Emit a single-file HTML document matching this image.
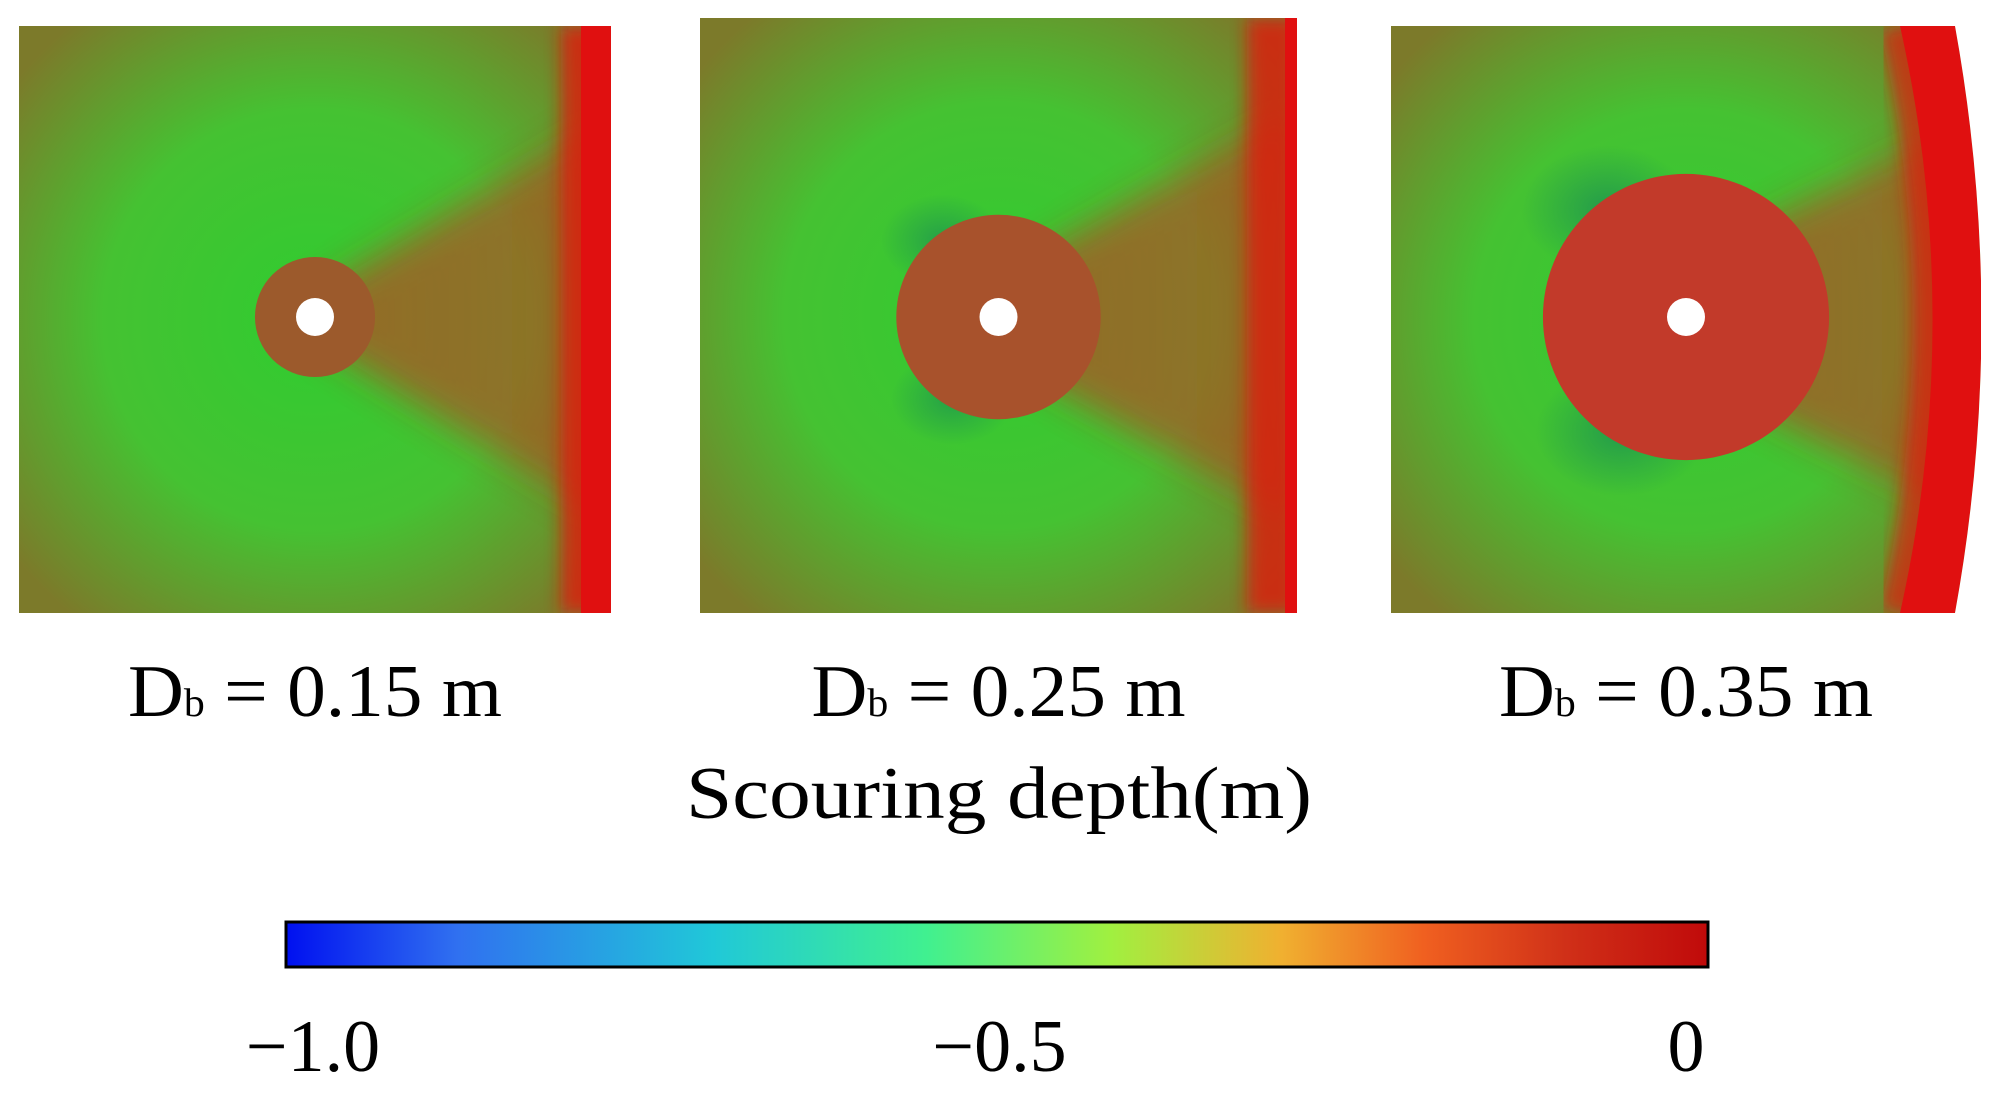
<!DOCTYPE html>
<html><head><meta charset="utf-8"><style>
html,body{margin:0;padding:0;background:#fff;width:1998px;height:1100px;overflow:hidden;}
svg{display:block;}
text{font-family:"Liberation Serif",serif;fill:#000;}
</style></head><body>
<svg id="fig" width="1998" height="1100" viewBox="0 0 1998 1100">
<defs>
<radialGradient id="bg" cx="0.5" cy="0.5" r="0.65">
<stop offset="0" stop-color="#30cc30"/><stop offset="0.55" stop-color="#45c232"/><stop offset="1" stop-color="#7c7a2a"/>
</radialGradient>
<linearGradient id="wake" x1="0" x2="1" y1="0" y2="0">
<stop offset="0" stop-color="#d8281e" stop-opacity="0.85"/><stop offset="1" stop-color="#c8301e" stop-opacity="0.7"/>
</linearGradient>
<radialGradient id="teal" cx="0.5" cy="0.5" r="0.5">
<stop offset="0" stop-color="#1a8a55" stop-opacity="0.8"/><stop offset="1" stop-color="#1a8a55" stop-opacity="0"/>
</radialGradient>
<filter id="blur" x="-50%" y="-50%" width="200%" height="200%"><feGaussianBlur stdDeviation="18"/></filter>
<filter id="blur2" x="-50%" y="-20%" width="200%" height="140%"><feGaussianBlur stdDeviation="8"/></filter>
<linearGradient id="cbar" x1="0" x2="1" y1="0" y2="0"></linearGradient>
</defs>
<g id="panels"></g>
<text x="999" y="818" font-size="74" text-anchor="middle" textLength="626" lengthAdjust="spacingAndGlyphs">Scouring depth(m)</text>
<rect id="cbrect" x="286" y="922" width="1422" height="45" fill="url(#cbar)" stroke="#000" stroke-width="3"/>
<g id="ticks"></g>
</svg>
<script>
const diameters = [0.15, 0.25, 0.35];
const labels = ["0.15", "0.25", "0.35"];
const scourRadius = [0.47, 0.80, 1.12];
const circleColors = ["#9c5a2c", "#a8522c", "#c23a2a"];
const tealStrength = [0, 0.8, 0.9];
const cbStops = [0, 0.12, 0.3, 0.45, 0.58, 0.7, 0.8, 0.9, 1];
const cbColors = ["#0010f0","#3070f0","#20c8d8","#40f090","#a0f040","#f0b030","#f06020","#d03018","#c00a0a"];
const tickValues = [-1.0, -0.5, 0];
const tickLabels = ["\u22121.0", "\u22120.5", "0"];

const NS = "http://www.w3.org/2000/svg";
const panelX = [[19,611],[700,1297],[1391,1981]];
const panelY = [[26,613],[18,613],[26,613]];
const rScale = v => v * 127.75;
const cbX = v => 313 + (v + 1) * (1686 - 313);
function mk(tag, attrs, parent){const e=document.createElementNS(NS,tag);for(const k in attrs)e.setAttribute(k,attrs[k]);parent.appendChild(e);return e;}
const pg = document.getElementById("panels");
diameters.forEach((d,i)=>{
  const [x0,x1]=panelX[i],[y0,y1]=panelY[i];
  const cx=(x0+x1)/2, cy=317, r=rScale(scourRadius[i]);
  const g=mk("g",{},pg);
  
  
  mk("rect",{x:x0,y:y0,width:x1-x0,height:y1-y0,fill:"url(#bg)"},g);
  const cp=mk("clipPath",{id:"cp"+i},g);mk("rect",{x:x0,y:y0,width:x1-x0,height:y1-y0},cp);
  const inner=mk("g",{"clip-path":"url(#cp"+i+")"},g);
  const wake=mk("polygon",{points:`${cx},${cy-r*0.4} ${x1},${y0+90} ${x1},${y1-90} ${cx},${cy+r*0.4}`,fill:"url(#wake)",filter:"url(#blur)",opacity:0.7},inner);
  
  
  if(tealStrength[i]>0){
    mk("ellipse",{cx:cx-r*0.55,cy:cy-r*0.75,rx:r*0.6,ry:r*0.45,fill:"url(#teal)",opacity:tealStrength[i]},inner);
    mk("ellipse",{cx:cx-r*0.45,cy:cy+r*0.8,rx:r*0.6,ry:r*0.45,fill:"url(#teal)",opacity:tealStrength[i]},inner);
  }
  if(i<2){
    mk("rect",{x:x1-50,y:y0,width:50,height:y1-y0,fill:"#dd1a10",filter:"url(#blur2)",opacity:0.8},inner);
    mk("rect",{x:x1-(i==0?30:12),y:y0,width:(i==0?30:12),height:y1-y0,fill:"#e01010"},inner);
  } else {
    mk("path",{d:"M1900,26 A1339,1339 0 0,1 1900,613",fill:"none",stroke:"#dd1a10","stroke-width":40,filter:"url(#blur2)",opacity:0.7},inner);
    const ring=mk("path",{d:"M1900,26 A1339,1339 0 0,1 1900,613 L1955,613 A1641,1641 0 0,0 1955,26 Z",fill:"#e01010"},inner);
    
    
    mk("path",{d:"M1955,26 A1641,1641 0 0,1 1955,613 L1990,613 L1990,26 Z",fill:"#fff"},inner);
  }
  const c=mk("circle",{cx:cx,cy:cy,r:r,fill:circleColors[i]},g);
  
  
  const p=mk("circle",{cx:cx,cy:cy,r:19,fill:"#fff"},g);
  
  
  const t=mk("text",{x:cx,y:716,"font-size":74,"text-anchor":"middle",textLength:374,lengthAdjust:"spacingAndGlyphs"},pg);
  
  
  t.innerHTML='D<tspan font-size="40">b</tspan> = '+labels[i]+' m';
});
const grad=document.getElementById("cbar");
cbStops.forEach((s,i)=>mk("stop",{offset:s,"stop-color":cbColors[i]},grad));
const tg=document.getElementById("ticks");
tickValues.forEach((v,i)=>{
  const t=mk("text",{x:cbX(v),y:1071,"font-size":74,"text-anchor":"middle"},tg);
  
  
  t.textContent=tickLabels[i];
});
</script>
</body></html>
